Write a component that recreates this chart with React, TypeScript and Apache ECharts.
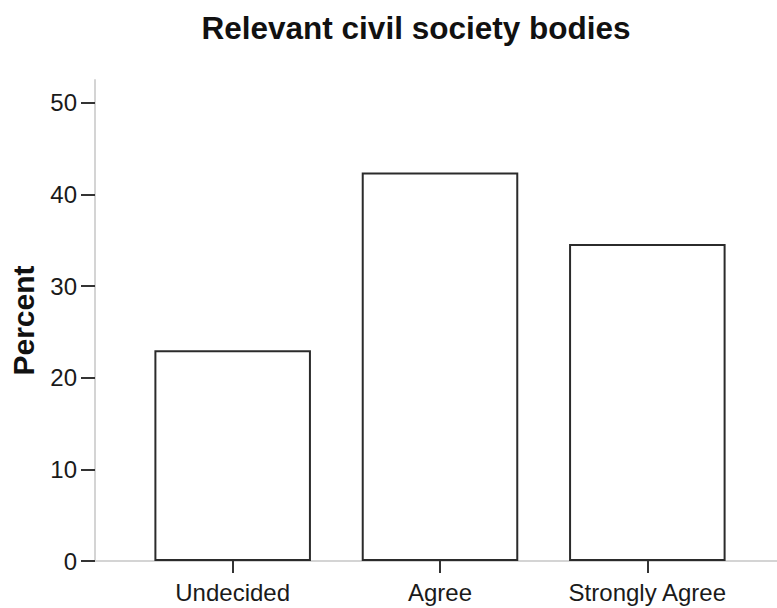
import React, { useEffect, useRef } from "react";
import * as echarts from "echarts";

const categories = ["Undecided", "Agree", "Strongly Agree"];
const percentValues = [23.0, 42.4, 34.6];
const yTickValues = [0, 10, 20, 30, 40, 50];
const titleText = "Relevant civil society bodies";
const yAxisName = "Percent";

const FONT = "'Liberation Sans', Arial, sans-serif";

export default function App() {
  const ref = useRef<HTMLDivElement>(null);
  useEffect(() => {
    if (!ref.current) return;
    const chart = echarts.init(ref.current, undefined, { renderer: "svg" });
    chart.setOption({
      animation: false,
      backgroundColor: "#ffffff",
      title: {
        text: titleText,
        left: 411,
        top: 7,
        textAlign: "center",
        textStyle: { fontFamily: FONT, fontSize: 31.5, fontWeight: "bold", color: "#111" },
      },
      grid: { left: 126, right: 26, top: 80, bottom: 47, containLabel: false },
      xAxis: {
        type: "category",
        data: categories,
        boundaryGap: true,
        offset: 4,
        axisLine: { show: false },
        axisTick: { show: true, alignWithLabel: true, length: 12, lineStyle: { color: "#333", width: 2 } },
        axisLabel: { fontFamily: FONT, fontSize: 24, color: "#1a1a1a", margin: 15 },
        splitLine: { show: false },
      },
      yAxis: {
        type: "value",
        min: 0,
        max: 52.5,
        interval: 10,
        offset: 34,
        name: yAxisName,
        nameLocation: "middle",
        nameGap: 57,
        nameRotate: 90,
        nameTextStyle: { fontFamily: FONT, fontSize: 30, fontWeight: "bold", color: "#111" },
        axisLine: { show: true, lineStyle: { color: "#d4d4d4", width: 2 } },
        axisTick: {
          show: true,
          length: 14,
          customValues: yTickValues,
          lineStyle: { color: "#333", width: 2 },
        },
        axisLabel: {
          fontFamily: FONT,
          fontSize: 24,
          color: "#1a1a1a",
          margin: 18,
          customValues: yTickValues,
        },
        splitLine: { show: false },
      },
      graphic: [
        {
          type: "line",
          z: 0,
          shape: { x1: 92, y1: 561, x2: 777, y2: 561 },
          style: { stroke: "#d4d4d4", lineWidth: 2 },
        },
      ],
      series: [
        {
          type: "bar",
          data: percentValues,
          barCategoryGap: "24.5%",
          z: 3,
          itemStyle: { color: "#ffffff", borderColor: "#2b2b2b", borderWidth: 2 },
        },
      ],
    });
    return () => chart.dispose();
  }, []);
  return (
    <div
      ref={ref}
      style={{ position: "fixed", left: 0, top: 0, width: 777, height: 608 }}
    />
  );
}
